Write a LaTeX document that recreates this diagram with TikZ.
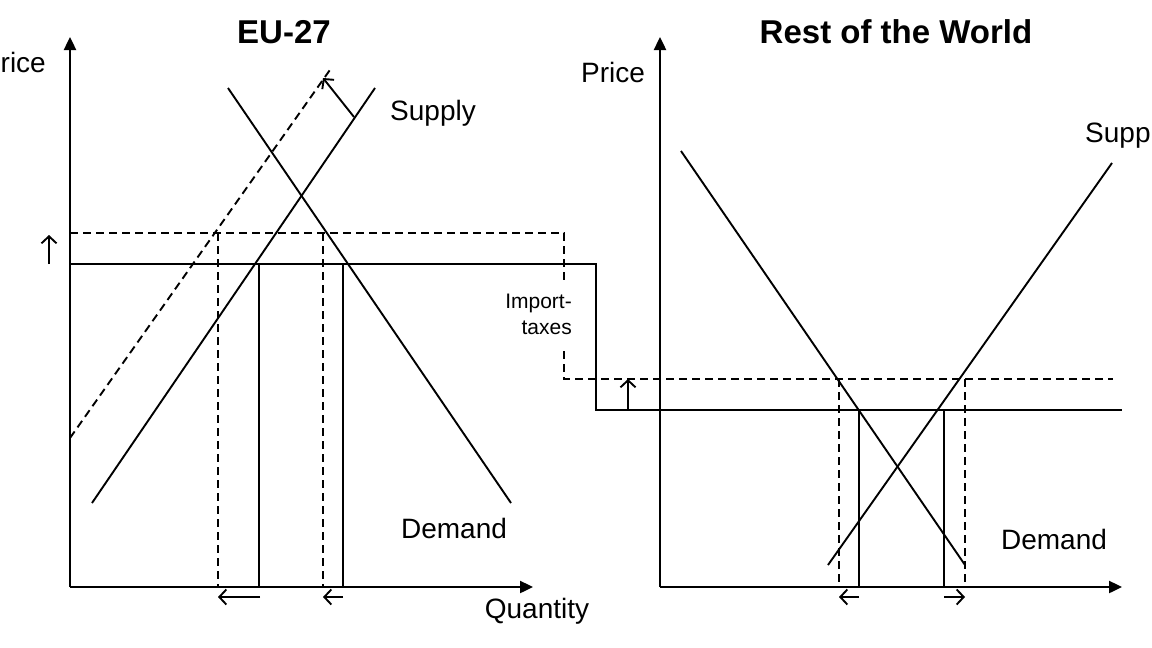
\documentclass[tikz,border=0pt]{standalone}
\usepackage{fontspec}
\setmainfont{Liberation Sans}
\usetikzlibrary{arrows.meta}
\tikzset{
  axis/.style={line width=2.4pt,-{Triangle[length=13pt,width=12pt]}},
  curve/.style={line width=1.9pt},
  guide/.style={line width=1.9pt,dash pattern=on 8pt off 5pt},
  movearrow/.style={line width=1.9pt,-{Straight Barb[length=7pt,width=15pt]}},
  lbl/.style={inner sep=0pt,font=\fontsize{28}{32}\selectfont},
  ttl/.style={inner sep=0pt,font=\fontsize{33}{38}\selectfont\bfseries},
}
\begin{document}
\begin{tikzpicture}[x=1pt,y=-1pt]
\useasboundingbox (0,0) rectangle (1152,648);
% EU-27
\draw[axis](70,587)--(70,37);
\draw[axis](70,587)--(533,587);
\node[lbl,anchor=east] (pL) at (46,62) {Price};
\node[ttl] (tL) at (284,32) {EU-27};
\node[lbl] (qL) at (537,611) {Quantity};
\draw[guide](70,438)--(332,67);
\draw[curve](92,503)--(375,88);
\draw[curve](228,88)--(511,503);
\draw[movearrow](354,117)--(323,78);
\node[lbl] (sL) at (433,113) {Supply};
\node[lbl] (dL) at (454,528) {Demand};
\draw[guide](218,233)--(218,587);
\draw[guide](323,233)--(323,587);
\draw[curve](259,264)--(259,587);
\draw[curve](343,264)--(343,587);
\draw[movearrow](260,597)--(218,597);
\draw[movearrow](343,597)--(323,597);
\draw[movearrow](49,264)--(49,235);
% world price, with and without taxes
\draw[curve](70,264)--(596,264)--(596,410)--(1122,410);
\draw[guide](70,233)--(564,233)--(564,283);
\draw[guide](564,351)--(564,379)--(1113,379);
\node[inner sep=0pt,anchor=north east,align=right,font=\fontsize{21}{26}\selectfont] (tax) at (572,294) {Import-\\taxes};
\draw[movearrow](628,410)--(628,379);
% Rest of the World
\draw[axis](660,587)--(660,37);
\draw[axis](660,587)--(1122,587);
\node[lbl] (pR) at (613,72) {Price};
\node[ttl] (tR) at (896,32) {Rest of the World};
\draw[curve](681,151)--(965,565);
\draw[curve](828,565)--(1112,163);
\node[lbl,anchor=west] (sR) at (1085,135) {Supply};
\node[lbl] (dR) at (1054,539) {Demand};
\draw[guide](839,379)--(839,587);
\draw[guide](965,379)--(965,587);
\draw[curve](859,410)--(859,587);
\draw[curve](944,410)--(944,587);
\draw[movearrow](859,597)--(839,597);
\draw[movearrow](944,597)--(965,597);
\end{tikzpicture}
\end{document}
